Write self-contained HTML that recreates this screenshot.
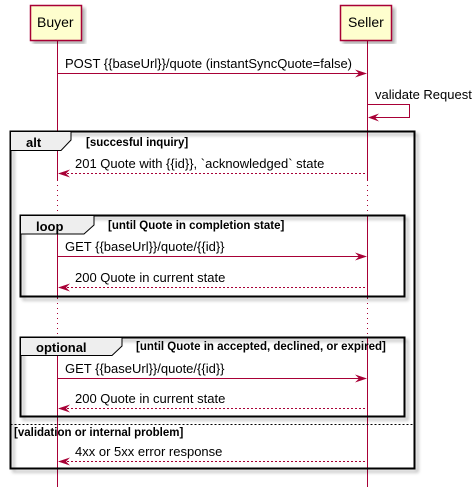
<!DOCTYPE html>
<html><head><meta charset="utf-8"><style>html,body{margin:0;padding:0;background:#fff}svg{display:block}</style></head><body>
<svg width="475" height="492" viewBox="0 0 475 492" xmlns="http://www.w3.org/2000/svg" font-family="Liberation Sans, sans-serif">
<defs>
<filter id="sh" x="-5%" y="-5%" width="115%" height="115%"><feDropShadow dx="3" dy="3" stdDeviation="1.5" flood-color="#000" flood-opacity="0.3"/></filter>
</defs>
<g stroke="#A80036" stroke-width="1">
<line x1="57.5" y1="40" x2="57.5" y2="180"/>
<line x1="57.5" y1="180" x2="57.5" y2="215" stroke-dasharray="1,4"/>
<line x1="57.5" y1="215" x2="57.5" y2="298"/>
<line x1="57.5" y1="298" x2="57.5" y2="337" stroke-dasharray="1,4"/>
<line x1="57.5" y1="337" x2="57.5" y2="487"/>
<line x1="367.5" y1="40" x2="367.5" y2="180"/>
<line x1="367.5" y1="180" x2="367.5" y2="215" stroke-dasharray="1,4"/>
<line x1="367.5" y1="215" x2="367.5" y2="298"/>
<line x1="367.5" y1="298" x2="367.5" y2="337" stroke-dasharray="1,4"/>
<line x1="367.5" y1="337" x2="367.5" y2="487"/>
</g>
<rect x="30.5" y="5.5" width="51" height="35" fill="#FEFECE" stroke="#A80036" stroke-width="1.5" filter="url(#sh)"/>
<text x="37" y="27" font-size="14">Buyer</text>
<rect x="340.5" y="5.5" width="51" height="35" fill="#FEFECE" stroke="#A80036" stroke-width="1.5" filter="url(#sh)"/>
<text x="348" y="27" font-size="14">Seller</text>
<g font-size="13" fill="#000">
<text x="65" y="68">POST {{baseUrl}}/quote (instantSyncQuote=false)</text>
<line x1="57.5" y1="73.5" x2="365" y2="73.5" stroke="#A80036"/>
<polygon points="355,69.5 367,73.5 355,77.5 359,73.5" fill="#A80036"/>
<text x="375" y="99">validate Request</text>
<polyline points="367.5,104.5 409.5,104.5 409.5,117.5 369,117.5" fill="none" stroke="#A80036"/>
<polygon points="379,113.5 368,117.5 379,121.5 375,117.5" fill="#A80036"/>
<rect x="10.5" y="131.5" width="404" height="337" fill="none" stroke="#000" stroke-width="2" filter="url(#sh)"/>
<polygon points="10.5,131.5 71,131.5 71,140 61,150.5 10.5,150.5" fill="#EEEEEE" stroke="#000" stroke-width="1"/>
<text x="26" y="147" font-weight="bold" font-size="13">alt</text>
<text x="86" y="146" font-weight="bold" font-size="11.5">[succesful inquiry]</text>
<text x="75" y="168">201 Quote with {{id}}, `acknowledged` state</text>
<line x1="59" y1="173.5" x2="367.5" y2="173.5" stroke="#A80036" stroke-dasharray="2,2"/>
<polygon points="70,169.5 58,173.5 70,177.5 66,173.5" fill="#A80036"/>
<rect x="20.5" y="215.5" width="384" height="81" fill="none" stroke="#000" stroke-width="2" filter="url(#sh)"/>
<polygon points="20.5,215.5 94,215.5 94,225 84,234 20.5,234" fill="#EEEEEE" stroke="#000" stroke-width="1"/>
<text x="36" y="231" font-weight="bold" font-size="13">loop</text>
<text x="108" y="229" font-weight="bold" font-size="11.5">[until Quote in completion state]</text>
<text x="65" y="251">GET {{baseUrl}}/quote/{{id}}</text>
<line x1="57.5" y1="256.5" x2="365" y2="256.5" stroke="#A80036"/>
<polygon points="355,252.5 367,256.5 355,260.5 359,256.5" fill="#A80036"/>
<text x="75" y="282">200 Quote in current state</text>
<line x1="59" y1="287.5" x2="367.5" y2="287.5" stroke="#A80036" stroke-dasharray="2,2"/>
<polygon points="70,283.5 58,287.5 70,291.5 66,287.5" fill="#A80036"/>
<rect x="20.5" y="337.5" width="384" height="79" fill="none" stroke="#000" stroke-width="2" filter="url(#sh)"/>
<polygon points="20.5,337.5 122,337.5 122,346 112,355.5 20.5,355.5" fill="#EEEEEE" stroke="#000" stroke-width="1"/>
<text x="36" y="352" font-weight="bold" font-size="13">optional</text>
<text x="136" y="350" font-weight="bold" font-size="11.5">[until Quote in accepted, declined, or expired]</text>
<text x="65" y="373">GET {{baseUrl}}/quote/{{id}}</text>
<line x1="57.5" y1="378.5" x2="365" y2="378.5" stroke="#A80036"/>
<polygon points="355,374.5 367,378.5 355,382.5 359,378.5" fill="#A80036"/>
<text x="75" y="403">200 Quote in current state</text>
<line x1="59" y1="408.5" x2="367.5" y2="408.5" stroke="#A80036" stroke-dasharray="2,2"/>
<polygon points="70,404.5 58,408.5 70,412.5 66,408.5" fill="#A80036"/>
<line x1="10.5" y1="424.5" x2="414.5" y2="424.5" stroke="#000" stroke-dasharray="2,2"/>
<text x="14" y="436" font-weight="bold" font-size="11.5">[validation or internal problem]</text>
<text x="75" y="456">4xx or 5xx error response</text>
<line x1="59" y1="461.5" x2="367.5" y2="461.5" stroke="#A80036" stroke-dasharray="2,2"/>
<polygon points="70,457.5 58,461.5 70,465.5 66,461.5" fill="#A80036"/>
</g>
</svg>
</body></html>
